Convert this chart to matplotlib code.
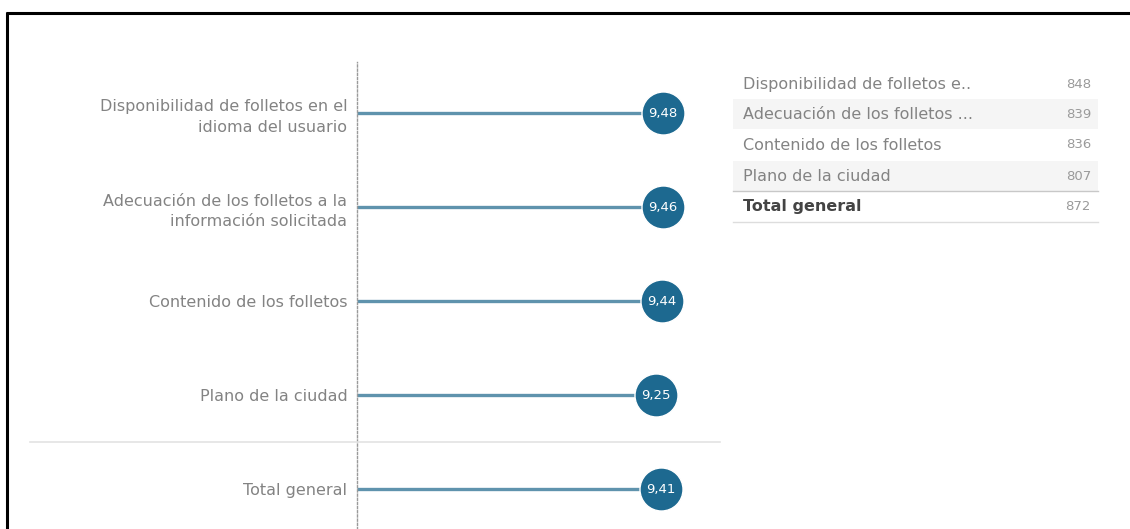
"""Lollipop chart of folleto ratings with a small count table on the right."""

import matplotlib

matplotlib.use("Agg")
import matplotlib.pyplot as plt
from matplotlib.lines import Line2D
from matplotlib.patches import Rectangle

plt.rcParams["font.family"] = ["DejaVu Sans"]

CATEGORIES = [
    "Disponibilidad de folletos en el\nidioma del usuario",
    "Adecuación de los folletos a la\ninformación solicitada",
    "Contenido de los folletos",
    "Plano de la ciudad",
    "Total general",
]
SCORES = [9.48, 9.46, 9.44, 9.25, 9.41]

TABLE_LABELS = [
    "Disponibilidad de folletos e..",
    "Adecuación de los folletos ...",
    "Contenido de los folletos",
    "Plano de la ciudad",
    "Total general",
]
TABLE_COUNTS = [848, 839, 836, 807, 872]

W, H = 1130, 529
LINE_COLOR = "#5f93ad"
DOT_COLOR = "#1d6990"
LABEL_COLOR = "#838383"


def px(x, y):
    """Pixel (from top-left) to figure fraction."""
    return x / W, 1 - y / H


fig = plt.figure(figsize=(W / 100, H / 100), dpi=100)

# lollipop axes: x=0 at pixel 357, rows at pixel 113 + 94*i
ax_left, ax_right = 357, 720
ax_top, ax_bottom = 62, 529
ax = fig.add_axes([ax_left / W, 1 - ax_bottom / H,
                   (ax_right - ax_left) / W, (ax_bottom - ax_top) / H])
px_per_unit = 32.3
ax.set_xlim(0, (ax_right - ax_left) / px_per_unit)
ax.set_ylim((ax_bottom - 113) / 94, (ax_top - 113) / 94)

rows = list(range(len(CATEGORIES)))
ax.hlines(rows, 0, SCORES, color=LINE_COLOR, linewidth=2.4, zorder=2)
ax.scatter(SCORES, rows, s=960, color=DOT_COLOR, edgecolors="white",
           linewidths=1.0, zorder=3)
for score, row in zip(SCORES, rows):
    ax.text(score, row, f"{score:.2f}".replace(".", ","), color="white",
            fontsize=9.5, ha="center", va="center", zorder=4)

ax.set_yticks(rows, CATEGORIES)
ax.tick_params(axis="y", length=0, pad=7, labelsize=11.5, labelcolor=LABEL_COLOR)
for label in ax.get_yticklabels():
    label.set_linespacing(1.5)
ax.set_xticks([])
for side in ("top", "right", "bottom"):
    ax.spines[side].set_visible(False)
ax.spines["left"].set_color("#9a9a9a")
ax.spines["left"].set_linestyle((0, (1.5, 1.5)))
ax.spines["left"].set_linewidth(1.0)

# separator above total row
x0, y0 = px(30, 442)
x1, _ = px(720, 442)
fig.add_artist(Line2D([x0, x1], [y0, y0], color="#e3e3e3", linewidth=1.2))

# table on the right
row_y = [84, 114, 145, 176, 207]
band_left, band_right = 733, 1098
for i, (label, count) in enumerate(zip(TABLE_LABELS, TABLE_COUNTS)):
    y = row_y[i]
    if i in (1, 3):
        bx, by = px(band_left, y + 15)
        fig.add_artist(Rectangle((bx, by), (band_right - band_left) / W, 30 / H,
                                 transform=fig.transFigure, facecolor="#f5f5f5",
                                 edgecolor="none", zorder=0))
    total = label == "Total general"
    tx, ty = px(743, y)
    fig.text(tx, ty, label, fontsize=11.5, va="center", ha="left",
             color="#444444" if total else LABEL_COLOR,
             fontweight="bold" if total else "normal")
    vx, _ = px(1091, y)
    fig.text(vx, ty, str(count), fontsize=9.5, va="center", ha="right",
             color="#9a9a9a")

for y, color in ((191, "#c8c8c8"), (222, "#dddddd")):
    lx0, ly = px(band_left, y)
    lx1, _ = px(band_right, y)
    fig.add_artist(Line2D([lx0, lx1], [ly, ly], color=color, linewidth=1.0))

# black frame on top and left edges
bx0, by0 = px(6, 12.5)
bx1, _ = px(W, 12.5)
fig.add_artist(Line2D([bx0, bx1], [by0, by0], color="black", linewidth=2.2,
                      solid_capstyle="butt"))
vx0, vy0 = px(7, 12)
_, vy1 = px(7, H)
fig.add_artist(Line2D([vx0, vx0], [vy0, vy1], color="black", linewidth=2.2,
                      solid_capstyle="butt"))

fig.savefig("out.png", dpi=100)
